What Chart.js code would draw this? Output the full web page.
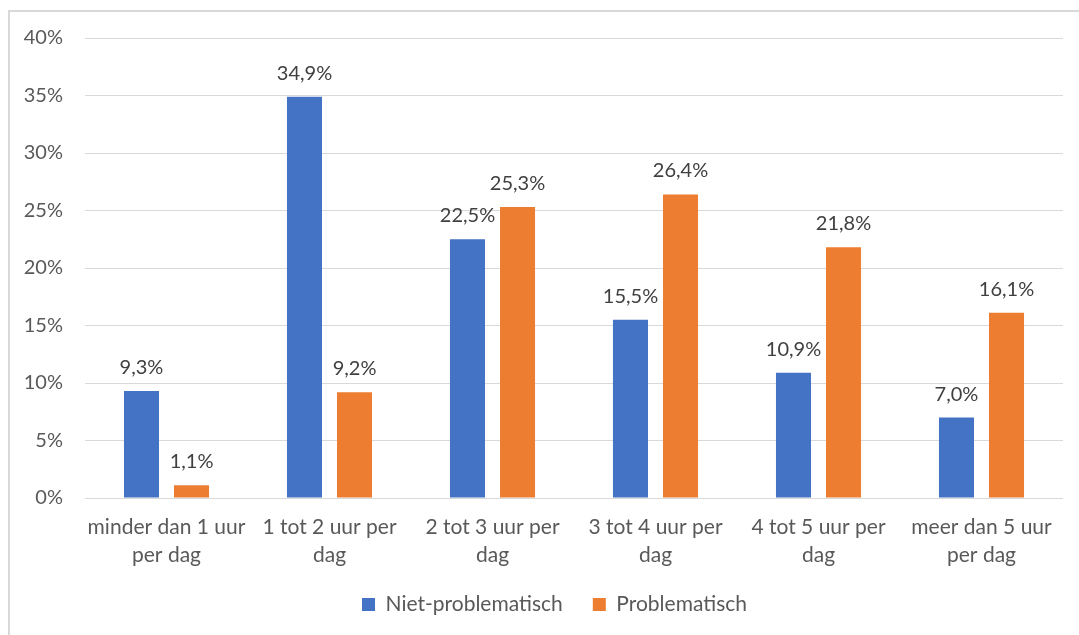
<!DOCTYPE html>
<html>
<head>
<meta charset="utf-8">
<script src="https://cdn.jsdelivr.net/npm/chart.js@4"></script>
<style>
  html, body { margin: 0; padding: 0; background: #fff; }
  #wrap { position: relative; width: 1079px; height: 635px; overflow: hidden; }
  #frame { position: absolute; left: 8px; top: 10px; width: 1100px; height: 700px; border-left: 2px solid #d9d9d9; border-top: 2px solid #d9d9d9; box-sizing: border-box; }
  canvas { position: absolute; left: 0; top: 0; }
</style>
</head>
<body>
<div id="wrap">
  <div id="frame"></div>
  <canvas id="c" width="1079" height="635"></canvas>
</div>
<script>
const categories = [
  ["minder dan 1 uur", "per dag"],
  ["1 tot 2 uur per", "dag"],
  ["2 tot 3 uur per", "dag"],
  ["3 tot 4 uur per", "dag"],
  ["4 tot 5 uur per", "dag"],
  ["meer dan 5 uur", "per dag"]
];
const nietProblematisch = [9.3, 34.9, 22.5, 15.5, 10.9, 7.0];
const problematisch = [1.1, 9.2, 25.3, 26.4, 21.8, 16.1];
const seriesNames = ["Niet-problematisch", "Problematisch"];
const yTicks = [0, 5, 10, 15, 20, 25, 30, 35, 40];

const FONT = "Lato, 'Open Sans', sans-serif";
const FS = 20;
const FS_CAT = 21;
const fmt = v => v.toFixed(1).replace('.', ',') + '%';

const dataLabels = {
  id: 'dataLabels',
  afterDatasetsDraw(chart) {
    const ctx = chart.ctx;
    ctx.save();
    ctx.font = FS + "px " + FONT;
    ctx.fillStyle = '#404040';
    ctx.textAlign = 'center';
    ctx.textBaseline = 'alphabetic';
    chart.data.datasets.forEach((ds, i) => {
      chart.getDatasetMeta(i).data.forEach((bar, j) => {
        ctx.fillText(fmt(ds.data[j]), bar.x, bar.y - 17);
      });
    });
    ctx.restore();
  }
};

// nudge the legend box to match the original placement
const legendShift = {
  id: 'legendShift',
  afterLayout(chart) {
    const lg = chart.legend;
    if (!lg) return;
    lg.left += 23; lg.right += 23;
    lg.top -= 4; lg.bottom -= 4;
  }
};

new Chart(document.getElementById('c'), {
  type: 'bar',
  data: {
    labels: categories,
    datasets: [
      { label: seriesNames[0], data: nietProblematisch, backgroundColor: '#4472C4' },
      { label: seriesNames[1], data: problematisch, backgroundColor: '#ED7D31' }
    ]
  },
  options: {
    responsive: false,
    animation: false,
    devicePixelRatio: 1,
    layout: { padding: { left: 0, right: 16, top: 38, bottom: 6 } },
    datasets: { bar: { categoryPercentage: 0.614, barPercentage: 0.7 } },
    scales: {
      x: {
        grid: { display: false, drawTicks: false },
        border: { display: false },
        ticks: { color: '#595959', font: { family: FONT, size: FS_CAT, lineHeight: 1.33 }, padding: 15, maxRotation: 0, autoSkip: false },
        afterFit(s) { s.height = 70; }
      },
      y: {
        min: 0, max: 40,
        afterBuildTicks(s) { s.ticks = yTicks.map(v => ({ value: v })); },
        grid: { color: '#d9d9d9', lineWidth: 1, drawTicks: false },
        border: { display: false },
        ticks: { color: '#595959', font: { family: FONT, size: FS }, padding: 22, callback: v => v + '%' },
        afterFit(s) { s.width = 85; }
      }
    },
    plugins: {
      legend: {
        position: 'bottom',
        labels: { color: '#595959', font: { family: FONT, size: FS_CAT }, boxWidth: 13, boxHeight: 13, padding: 30 }
      },
      tooltip: { enabled: false }
    }
  },
  plugins: [dataLabels, legendShift]
});
</script>
</body>
</html>
